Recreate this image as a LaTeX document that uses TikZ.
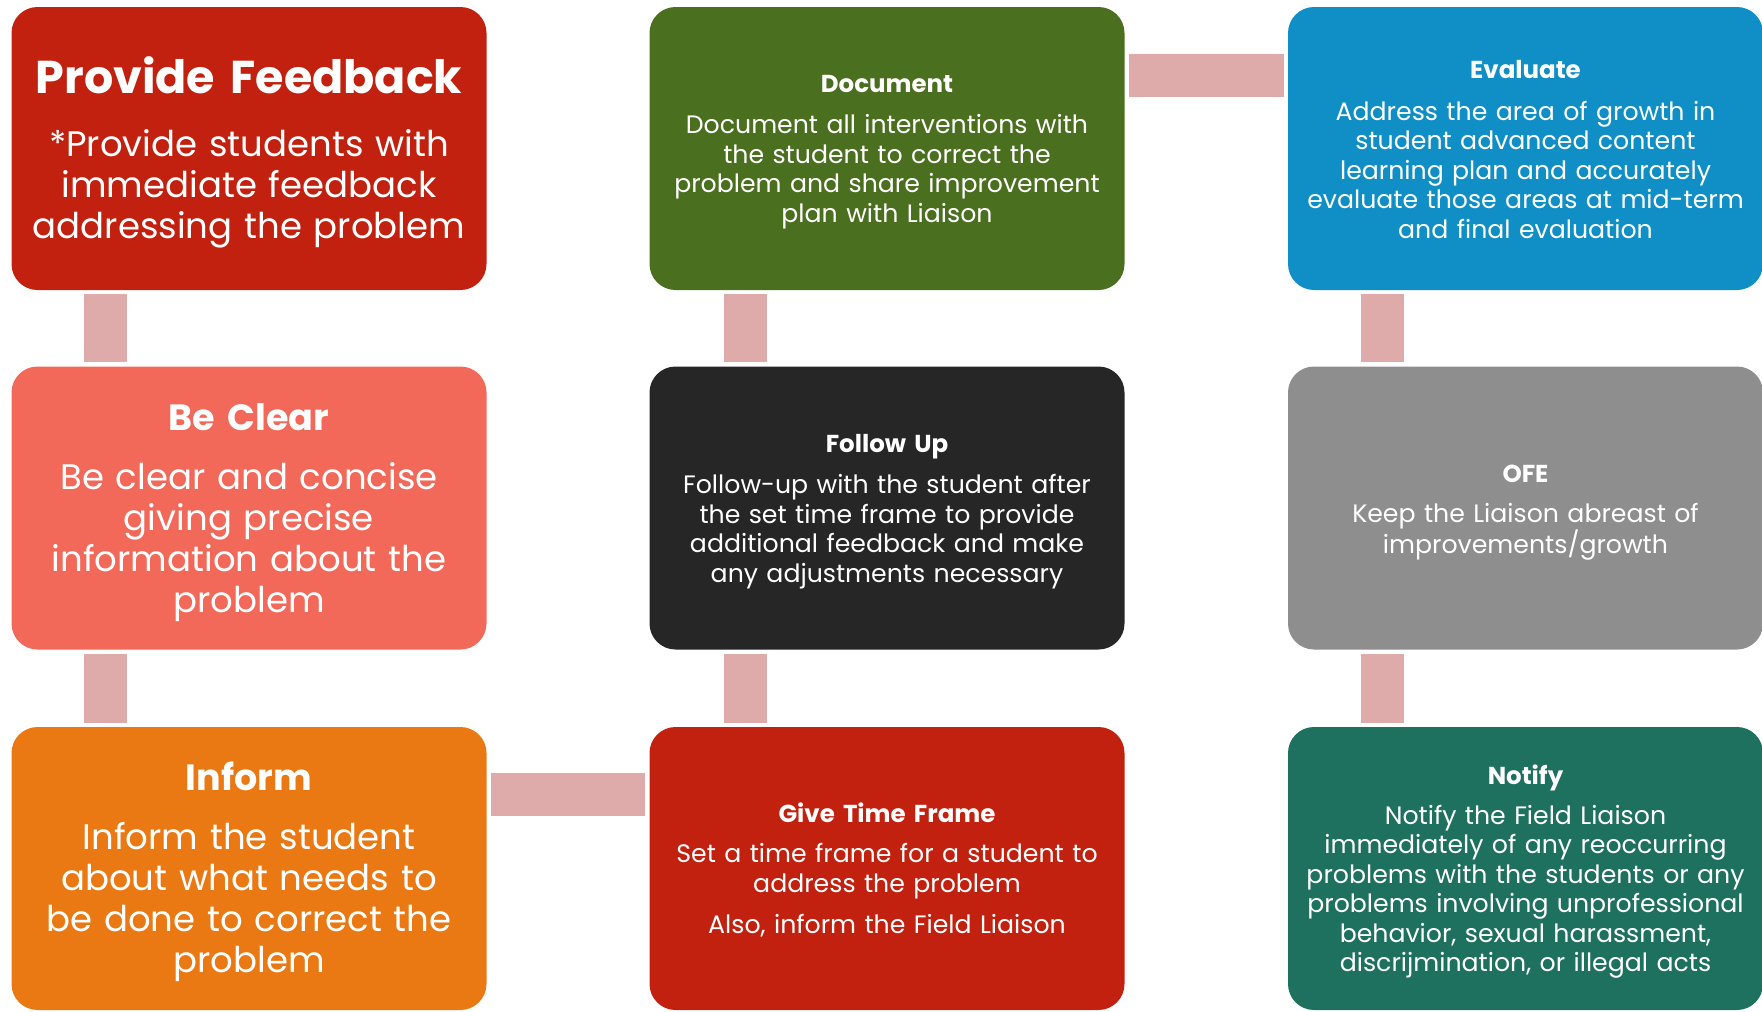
\documentclass[tikz,border=0pt]{standalone}
\usepackage{fontspec}
\setmainfont{Poppins}
\definecolor{cRed}{RGB}{195,33,15}
\definecolor{cSalmon}{RGB}{242,105,90}
\definecolor{cOrange}{RGB}{234,121,20}
\definecolor{cGreen}{RGB}{74,111,31}
\definecolor{cBlack}{RGB}{38,38,38}
\definecolor{cBlue}{RGB}{15,143,198}
\definecolor{cGray}{RGB}{142,142,142}
\definecolor{cTeal}{RGB}{30,112,95}
\definecolor{cConn}{RGB}{222,170,170}
\tikzset{
  card/.style={rectangle, rounded corners=26pt, minimum width=475pt, minimum height=283pt, inner sep=0pt, draw=none},
  conn/.style={draw=cConn, line width=43pt, line cap=butt},
  txt/.style={text=white, align=center, text width=470pt, inner sep=0pt},
  bigttl/.style={txt, font=\bfseries\fontsize{46}{52}\selectfont},
  midttl/.style={txt, font=\bfseries\fontsize{36.5}{42}\selectfont},
  smlttl/.style={txt, font=\bfseries\fontsize{24.5}{28}\selectfont},
  bigbody/.style={txt, font=\fontsize{35.5}{41}\selectfont},
  smlbody/.style={txt, font=\fontsize{25.2}{29.5}\selectfont}
}
\begin{document}
\begin{tikzpicture}[x=1pt, y=-1pt]
\useasboundingbox (0,0) rectangle (1762,1012);
% cards
\node[card, fill=cRed]    (pf)  at (249,148.5) {};
\node[card, fill=cSalmon] (bc)  at (249,508) {};
\node[card, fill=cOrange] (inf) at (249,868.5) {};
\node[card, fill=cGreen]  (doc) at (887,148.5) {};
\node[card, fill=cBlack]  (fu)  at (887,508) {};
\node[card, fill=cRed]    (gtf) at (887,868.5) {};
\node[card, fill=cBlue]   (ev)  at (1525.5,148.5) {};
\node[card, fill=cGray]   (ofe) at (1525.5,508) {};
\node[card, fill=cTeal]   (nt)  at (1525.5,868.5) {};
% connectors
\draw[conn] ([xshift=-143.5pt,yshift=-4pt]pf.south) -- ([xshift=-143.5pt,yshift=4pt]bc.north);
\draw[conn] ([xshift=-143.5pt,yshift=-4pt]bc.south) -- ([xshift=-143.5pt,yshift=4pt]inf.north);
\draw[conn] ([xshift=-142pt,yshift=-4pt]doc.south) -- ([xshift=-142pt,yshift=4pt]fu.north);
\draw[conn] ([xshift=-142pt,yshift=-4pt]fu.south) -- ([xshift=-142pt,yshift=4pt]gtf.north);
\draw[conn] ([xshift=-143pt,yshift=-4pt]ev.south) -- ([xshift=-143pt,yshift=4pt]ofe.north);
\draw[conn] ([xshift=-143pt,yshift=-4pt]ofe.south) -- ([xshift=-143pt,yshift=4pt]nt.north);
\draw[conn] ([xshift=4pt,yshift=73pt]doc.east) -- ([xshift=-4pt,yshift=73pt]ev.west);
\draw[conn] ([xshift=4pt,yshift=74pt]inf.east) -- ([xshift=-4pt,yshift=74pt]gtf.west);
% texts
\node[bigttl] (pft) at (249,75) {Provide Feedback};
\node[bigbody] (pfb) at (249,188.4) {*Provide students with\\immediate feedback\\addressing the problem};
\node[midttl] (bct) at (249,417) {Be Clear};
\node[bigbody] (bcb) at (249,542.3) {Be clear and concise\\giving precise\\information about the\\problem};
\node[midttl] (inft) at (249,776) {Inform};
\node[bigbody] (infb) at (249,902.4) {Inform the student\\about what needs to\\be done to correct the\\problem};
\node[smlttl] (doct) at (887,84) {Document};
\node[smlbody] (docb) at (887,171.5) {Document all interventions with\\the student to correct the\\problem and share improvement\\plan with Liaison};
\node[smlttl] (fut) at (887,447) {Follow Up};
\node[smlbody] (fub) at (887,531.5) {Follow-up with the student after\\the set time frame to provide\\additional feedback and make\\any adjustments necessary};
\node[smlttl] (gtft) at (887,812.4) {Give Time Frame};
\node[smlbody] (gtfb) at (887,871) {Set a time frame for a student to\\address the problem};
\node[smlbody] (gtfc) at (887,926) {Also, inform the Field Liaison};
\node[smlttl] (evt) at (1525.5,69.7) {Evaluate};
\node[smlbody] (evb) at (1525.5,169.5) {Address the area of growth in\\student advanced content\\learning plan and accurately\\evaluate those areas at mid-term\\and final evaluation};
\node[smlttl] (ofet) at (1525.5,474) {OFE};
\node[smlbody] (ofeb) at (1525.5,531.7) {Keep the Liaison abreast of\\improvements/growth};
\node[smlttl] (ntt) at (1525.5,778.3) {Notify};
\node[smlbody] (ntb) at (1525.5,891.9) {Notify the Field Liaison\\immediately of any reoccurring\\problems with the students or any\\problems involving unprofessional\\behavior, sexual harassment,\\discrijmination, or illegal acts};
\end{tikzpicture}
\end{document}
